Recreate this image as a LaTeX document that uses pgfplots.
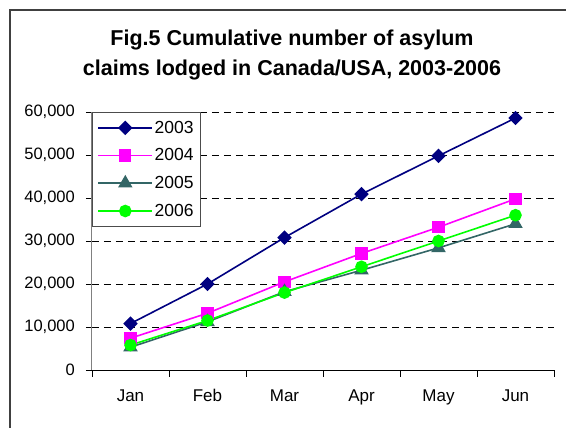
\documentclass[border=0pt]{standalone}
\usepackage{fontspec}
\setmainfont{Liberation Sans}
\usepackage{pgfplots}
\pgfplotsset{compat=1.18}
\definecolor{c03}{HTML}{000080}
\definecolor{c04}{HTML}{FF00FF}
\definecolor{c05}{HTML}{336666}
\definecolor{c06}{HTML}{00FF00}

\begin{document}
\begin{tikzpicture}[x=1pt,y=1pt]
\path[use as bounding box] (0,0) rectangle (566,428);
\draw[black!75, line width=1.5pt] (10,-2) -- (10,418) -- (568,418);
\node[font=\fontsize{21.5}{24}\selectfont\bfseries, anchor=base] at (292,382) {Fig.5 Cumulative number of asylum};
\node[font=\fontsize{21.5}{24}\selectfont\bfseries, anchor=base] at (292,352) {claims lodged in Canada/USA, 2003-2006};
\begin{axis}[
  at={(92pt,58pt)}, anchor=south west,
  scale only axis, width=462pt, height=258pt,
  xmin=-0.5, xmax=5.5, ymin=0, ymax=60000,
  axis x line*=bottom, axis y line*=left,
  x axis line style={black, line width=0.8pt},
  y axis line style={black!50, line width=1pt},
  xtick={-0.5,0.5,...,5.5},
  x tick label as interval,
  xticklabels={Jan,Feb,Mar,Apr,May,Jun},
  ytick={0,10000,...,60000},
  scaled y ticks=false,
  /pgf/number format/.cd, 1000 sep={,}, assume math mode=true, /pgfplots/.cd,
  ytick align=center, xtick align=outside, major tick length=12pt,
  xtick style={/pgfplots/major tick length=7pt},
  tick style={black, line width=0.8pt},
  ymajorgrids, grid style={black, dash pattern=on 7pt off 5pt, line width=0.6pt},
  yticklabel style={font=\fontsize{16.5}{18}\selectfont, inner sep=0pt, xshift=-11pt},
  xticklabel style={font=\fontsize{17}{18}\selectfont, inner sep=0pt, text height=12pt, anchor=north, yshift=-7pt},
  legend style={at={(0,1)}, anchor=north west, draw=black!70, fill=white,
    line width=1pt, font=\fontsize{17.5}{19}\selectfont,
    inner xsep=5pt, inner ysep=7pt, row sep=11pt,
    nodes={inner sep=1.5pt}},
  legend cell align=left,
  legend image code/.code={\draw[mark repeat=2,mark phase=2] plot coordinates {(0pt,0pt) (27pt,0pt) (54pt,0pt)};},
  every axis plot/.append style={line width=1.6pt},
]
\addplot[color=c03, mark=square*, mark size=4.3pt, mark options={rotate=45, solid}]
  coordinates {(0,10800) (1,20000) (2,30800) (3,40900) (4,49800) (5,58600)};
\addlegendentry{2003}
\addplot[color=c04, mark=square*, mark size=5.3pt]
  coordinates {(0,7400) (1,13200) (2,20500) (3,27100) (4,33200) (5,39800)};
\addlegendentry{2004}
\addplot[color=c05, mark=triangle*, mark size=6.8pt]
  coordinates {(0,5300) (1,11200) (2,18200) (3,23200) (4,28400) (5,34000)};
\addlegendentry{2005}
\addplot[color=c06, mark=*, mark size=5.5pt]
  coordinates {(0,5800) (1,11500) (2,18000) (3,24000) (4,30000) (5,36000)};
\addlegendentry{2006}
\end{axis}
\end{tikzpicture}
\end{document}
